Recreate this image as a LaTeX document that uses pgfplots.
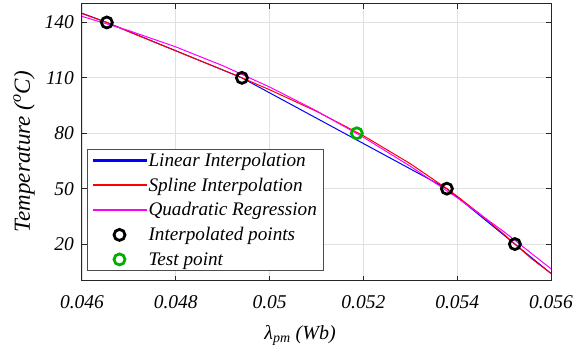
\documentclass[border=0pt]{standalone}
\usepackage{pgfplots}
\pgfplotsset{compat=1.18}
\usepackage{fontspec}
\setmainfont{Liberation Serif}
\definecolor{axgray}{gray}{0.15}
\definecolor{testgreen}{rgb}{0,0.69,0}
\definecolor{legred}{rgb}{1,0,0}
\definecolor{legmag}{rgb}{1,0,1}
\definecolor{legblue}{rgb}{0,0,1}
\pgfplotsset{
  lineleg/.style={legend image code/.code={\fill[fill=#1] (0pt,-0.65pt) rectangle (53pt,0.65pt);}},
  markleg/.style={legend image code/.code={\draw[mark repeat=2,mark phase=2,##1] plot coordinates {(0pt,0pt) (26.5pt,0pt) (53pt,0pt)};}},
}
\begin{document}
\begin{tikzpicture}
\begin{axis}[
  scale only axis, width=469pt, height=277pt,
  xmin=0.046, xmax=0.056, ymin=0, ymax=150,
  xtick={0.046,0.048,0.05,0.052,0.054,0.056},
  xticklabels={0.046,0.048,0.05,0.052,0.054,0.056},
  ytick={20,50,80,110,140},
  scaled x ticks=false,
  /pgf/number format/assume math mode=true,
  ticklabel style={font=\fontsize{19.5}{22}\selectfont\itshape},
  xticklabel style={yshift=-11pt},
  yticklabel style={xshift=-4.5pt},
  xlabel={λ\textsubscript{pm} (Wb)},
  ylabel={Temperature (\textsuperscript{o}C)},
  every axis x label/.style={at={(rel axis cs:0.465,-0.21)}, anchor=base,
    font=\fontsize{20}{24}\selectfont\itshape},
  every axis y label/.style={at={(rel axis cs:-0.1237,0.467)}, anchor=center, rotate=90,
    font=\fontsize{23}{26}\selectfont\itshape},
  grid=major, grid style={black!12, line width=0.8pt},
  axis line style={axgray, line width=1pt},
  tick style={axgray, line width=1pt},
  major tick length=5pt,
  tick align=inside,
  legend cell align=left,
  legend style={at={(rel axis cs:0.0107,0.036)}, anchor=south west,
    draw=black!70, line width=1pt, fill=white,
    font=\fontsize{19.2}{22}\selectfont\itshape,
    inner xsep=5pt, inner ysep=2pt, row sep=6pt},
]
\addplot[legblue, line width=1pt, lineleg=legblue] coordinates {
(0.04600,145.0) (0.04653,140) (0.04941,110) (0.05378,50) (0.05523,20) (0.05600,4.1)};
\addlegendentry{Linear Interpolation}
\addplot[legred, line width=1pt, lineleg=legred] coordinates {
(0.04600,144.8) (0.04653,140) (0.04700,134.97) (0.04800,124.62) (0.04900,114.32)
(0.04941,110) (0.05000,103.57) (0.05100,91.87) (0.05200,78.69) (0.05300,63.52)
(0.05378,50) (0.05400,45.88) (0.05450,35.96) (0.05500,25.22) (0.05523,20)
(0.05560,11.8) (0.05600,4.1)};
\addlegendentry{Spline Interpolation}
\addplot[legmag, line width=1pt, lineleg=legmag] coordinates {
(0.04600,143.3) (0.04700,135.58) (0.04800,126.78) (0.04900,116.61) (0.05000,105.06)
(0.05100,92.13) (0.05200,77.82) (0.05300,62.14) (0.05400,45.08) (0.05500,26.63)
(0.05600,6.6)};
\addlegendentry{Quadratic Regression}
\addplot[only marks, mark=o, mark size=5.5pt, black, mark options={line width=2.8pt}, markleg]
coordinates {(0.04653,140) (0.04941,110) (0.05378,50) (0.05523,20)};
\addlegendentry{Interpolated points}
\addplot[only marks, mark=o, mark size=5.5pt, testgreen, mark options={line width=2.8pt}, markleg]
coordinates {(0.05186,80)};
\addlegendentry{Test point}
\end{axis}
\pgfresetboundingbox
\path[use as bounding box] (current axis.south west) ++(-82pt,-69pt) rectangle ([xshift=36pt,yshift=4pt]current axis.north east);
\end{tikzpicture}
\end{document}
